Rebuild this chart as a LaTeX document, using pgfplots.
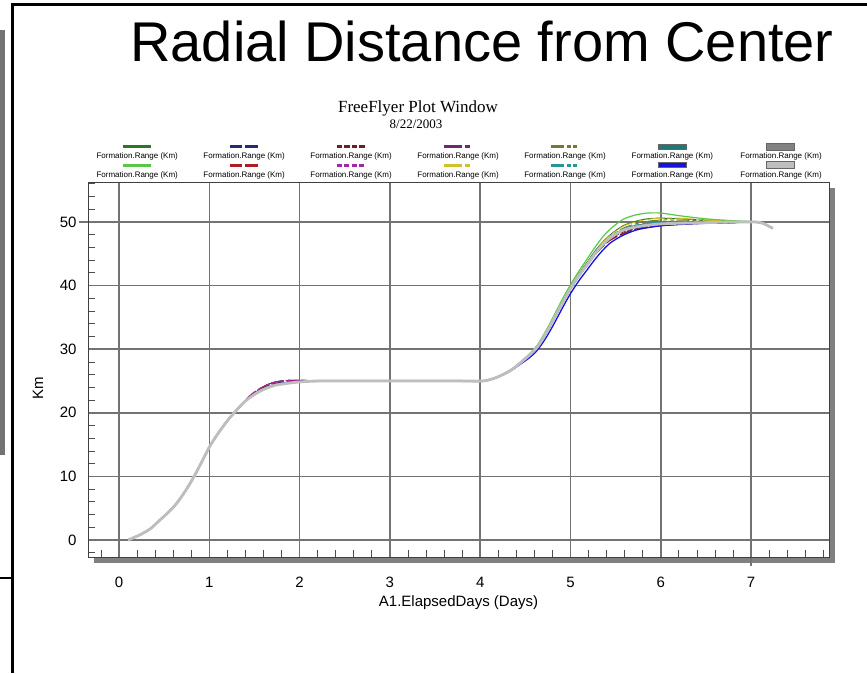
\documentclass[border=0pt]{standalone}
\usepackage{pgfplots}
\usepackage{pgfplotstable}
\pgfplotsset{compat=1.18}
\usepackage{fontspec}
\setmainfont{Liberation Sans}
\newfontfamily\timesf{Liberation Serif}

\definecolor{cA}{RGB}{40,120,40}
\definecolor{cB}{RGB}{90,200,70}
\definecolor{cC}{RGB}{40,40,120}
\definecolor{cD}{RGB}{170,30,40}
\definecolor{cE}{RGB}{110,30,40}
\definecolor{cF}{RGB}{160,40,170}
\definecolor{cG}{RGB}{110,40,110}
\definecolor{cH}{RGB}{205,195,40}
\definecolor{cI}{RGB}{120,120,50}
\definecolor{cJ}{RGB}{40,150,150}
\definecolor{cK}{RGB}{30,120,120}
\definecolor{cL}{RGB}{20,20,220}
\definecolor{cM}{RGB}{130,130,130}
\definecolor{cN}{RGB}{190,190,190}

\pgfplotstableread{
x    s1   s2   s3   s4   s5   s6   s7   s8   s9   s10  s11  s12  s13  s14
0.10 0.0  0.0  0.0  0.0  0.0  0.0  0.0  0.0  0.0  0.0  0.0  0.0  0.0  0.0
0.23 0.8  0.8  0.8  0.8  0.8  0.8  0.8  0.8  0.8  0.8  0.8  0.8  0.8  0.8
0.35 1.8  1.8  1.8  1.8  1.8  1.8  1.8  1.8  1.8  1.8  1.8  1.8  1.8  1.8
0.45 3.1  3.1  3.1  3.1  3.1  3.1  3.1  3.1  3.1  3.1  3.1  3.1  3.1  3.1
0.55 4.4  4.4  4.4  4.4  4.4  4.4  4.4  4.4  4.4  4.4  4.4  4.4  4.4  4.4
0.64 5.8  5.8  5.8  5.8  5.8  5.8  5.8  5.8  5.8  5.8  5.8  5.8  5.8  5.8
0.73 7.6  7.6  7.6  7.6  7.6  7.6  7.6  7.6  7.6  7.6  7.6  7.6  7.6  7.6
0.82 9.7  9.7  9.7  9.7  9.7  9.7  9.7  9.7  9.7  9.7  9.7  9.7  9.7  9.7
0.91 12.1 12.1 12.1 12.1 12.1 12.1 12.1 12.1 12.1 12.1 12.1 12.1 12.1 12.1
1.00 14.6 14.6 14.6 14.6 14.6 14.6 14.6 14.6 14.6 14.6 14.6 14.6 14.6 14.6
1.08 16.4 16.4 16.4 16.4 16.4 16.4 16.4 16.4 16.4 16.4 16.4 16.4 16.4 16.4
1.15 17.8 17.8 17.8 17.8 17.8 17.8 17.8 17.8 17.8 17.8 17.8 17.8 17.8 17.8
1.22 19.1 19.1 19.1 19.1 19.1 19.1 19.1 19.1 19.1 19.1 19.1 19.1 19.1 19.1
1.30 20.4 20.4 20.4 20.4 20.4 20.4 20.4 20.4 20.4 20.4 20.4 20.4 20.4 20.4
1.38 21.6 21.6 21.6 21.6 21.6 21.6 21.6 21.6 21.6 21.6 21.6 21.6 21.6 21.6
1.45 22.5 22.5 22.6 22.7 22.7 22.7 22.7 22.5 22.5 22.5 22.5 22.5 22.5 22.4
1.55 23.4 23.4 23.6 23.7 23.7 23.7 23.7 23.4 23.4 23.4 23.4 23.4 23.4 23.3
1.64 24.0 24.0 24.2 24.4 24.4 24.4 24.4 24.0 24.0 24.0 24.0 24.0 24.0 23.9
1.72 24.4 24.4 24.6 24.8 24.8 24.8 24.8 24.4 24.4 24.4 24.4 24.4 24.4 24.3
1.80 24.6 24.6 24.8 25.0 25.0 25.0 25.0 24.6 24.6 24.6 24.6 24.6 24.6 24.5
1.90 24.8 24.8 25.0 25.1 25.1 25.1 25.1 24.8 24.8 24.8 24.8 24.8 24.8 24.7
2.00 24.9 24.9 25.0 25.1 25.1 25.1 25.1 24.9 24.9 24.9 24.9 24.9 24.9 24.85
2.20 25.0 25.0 25.0 25.05 25.05 25.05 25.05 25.0 25.0 25.0 25.0 25.0 25.0 25.0
2.60 25.0 25.0 25.0 25.0 25.0 25.0 25.0 25.0 25.0 25.0 25.0 25.0 25.0 25.0
3.00 25.0 25.0 25.0 25.0 25.0 25.0 25.0 25.0 25.0 25.0 25.0 25.0 25.0 25.0
3.40 25.0 25.0 25.0 25.0 25.0 25.0 25.0 25.0 25.0 25.0 25.0 25.0 25.0 25.0
3.80 25.0 25.0 25.0 25.0 25.0 25.0 25.0 25.0 25.0 25.0 25.0 25.0 25.0 25.0
4.03 25.0 25.0 25.0 25.0 25.0 25.0 25.0 25.0 25.0 25.0 25.0 25.0 25.0 25.0
4.15 25.4 25.4 25.4 25.4 25.4 25.4 25.4 25.4 25.4 25.4 25.4 25.4 25.4 25.4
4.25 26.0 26.0 26.0 26.0 26.0 26.0 26.0 26.0 26.0 26.0 26.0 26.0 26.0 26.0
4.35 26.8 26.8 26.8 26.8 26.8 26.8 26.8 26.8 26.8 26.8 26.8 26.7 26.8 26.8
4.44 27.8 27.9 27.8 27.8 27.8 27.8 27.8 27.8 27.8 27.8 27.8 27.6 27.8 27.8
4.54 29.0 29.2 29.0 29.0 29.0 29.0 29.0 29.0 29.0 29.0 29.0 28.6 29.0 29.0
4.63 30.3 30.6 30.3 30.3 30.3 30.3 30.3 30.3 30.3 30.3 30.3 29.8 30.3 30.3
4.72 32.3 32.7 32.3 32.3 32.3 32.3 32.3 32.3 32.3 32.3 32.3 31.6 32.3 32.3
4.81 34.6 35.1 34.6 34.6 34.6 34.6 34.6 34.6 34.6 34.6 34.6 33.8 34.6 34.6
4.90 37.0 37.6 37.0 37.0 37.0 37.0 37.0 37.0 37.0 37.0 37.0 36.2 37.0 37.0
4.99 39.5 39.9 39.3 39.3 39.3 39.3 39.3 39.4 39.4 39.3 39.3 38.5 39.3 39.3
5.09 41.8 42.2 41.5 41.5 41.5 41.5 41.5 41.7 41.6 41.5 41.5 40.7 41.5 41.5
5.18 43.6 44.1 43.1 43.1 43.2 43.2 43.2 43.4 43.3 43.2 43.2 42.4 43.2 43.2
5.27 45.4 46.0 44.8 44.8 44.9 45.0 45.0 45.2 45.1 45.0 45.0 44.1 45.0 45.0
5.36 46.9 47.7 46.2 46.2 46.3 46.4 46.5 46.8 46.7 46.5 46.5 45.6 46.5 46.5
5.45 48.1 49.0 47.3 47.2 47.4 47.5 47.6 48.0 47.8 47.7 47.6 46.8 47.6 47.6
5.58 49.4 50.4 48.2 48.1 48.4 48.6 48.8 49.3 49.0 48.9 48.8 47.9 48.7 48.7
5.72 50.1 51.1 48.9 48.8 49.0 49.3 49.4 50.0 49.7 49.5 49.4 48.7 49.2 49.2
5.85 50.5 51.4 49.3 49.1 49.3 49.6 49.7 50.4 50.1 49.8 49.7 49.1 49.5 49.5
6.00 50.6 51.4 49.6 49.4 49.5 49.8 49.9 50.6 50.3 50.0 49.9 49.4 49.7 49.7
6.20 50.5 51.0 49.7 49.6 49.7 49.9 50.0 50.6 50.3 50.1 50.0 49.6 49.8 49.8
6.50 50.3 50.5 49.8 49.8 49.8 49.9 50.0 50.3 50.2 50.1 50.0 49.8 49.9 49.9
6.80 50.1 50.2 49.9 49.9 49.9 50.0 50.0 50.1 50.1 50.0 50.0 49.9 50.0 50.0
6.95 50.0 50.1 50.0 50.0 50.0 50.0 50.0 50.0 50.0 50.0 50.0 50.0 50.0 50.0
7.05 50.0 50.0 50.0 50.0 50.0 50.0 50.0 50.0 50.0 50.0 50.0 50.0 50.0 50.0
7.13 49.8 49.9 49.8 49.8 49.8 49.8 49.8 49.8 49.8 49.8 49.8 49.8 49.8 49.8
7.20 nan  nan  nan  nan  nan  nan  nan  nan  nan  nan  nan  nan  49.3 49.3
7.24 nan  nan  nan  nan  nan  nan  nan  nan  nan  nan  nan  nan  49.0 49.0
}\radial

\begin{document}
\begin{tikzpicture}[x=1pt,y=1pt]
\path[use as bounding box, fill=white] (0,0) rectangle (867,673);
% slide decorations
\fill[black!55] (0,218) rectangle (5,643);
\draw[line width=3pt] (12.5,668) -- (12.5,0);
\draw[line width=3pt] (11,668) -- (867,668);
\draw[line width=2pt] (0,95) -- (12.5,95);
% window shadow
\fill[black!50] (94,110) rectangle (835,485);
% titles
\node[anchor=base, font=\fontsize{56}{60}\selectfont, inner sep=0pt] at (482,611) {Radial Distance from Center};
\node[anchor=base, font=\timesf\fontsize{17}{20}\selectfont, inner sep=0pt] at (418,560) {FreeFlyer Plot Window};
\node[anchor=base, font=\timesf\fontsize{13}{15}\selectfont, inner sep=0pt] at (416,544) {8/22/2003};

\begin{axis}[
  at={(119pt,133pt)}, anchor=origin,
  scale only axis, width=741pt, height=375pt,
  xmin=-0.343, xmax=7.863, ymin=-2.67, ymax=56.29,
  axis background/.style={fill=white},
  axis line style={black!75, line width=0.8pt},
  xtick={0,1,...,7}, ytick={0,10,...,50},
  minor xtick={-0.2,0.2,0.4,0.6,0.8,1.2,1.4,1.6,1.8,2.2,2.4,2.6,2.8,3.2,3.4,3.6,3.8,4.2,4.4,4.6,4.8,5.2,5.4,5.6,5.8,6.2,6.4,6.6,6.8,7.2,7.4,7.6,7.8},
  minor ytick={-2,2,4,6,8,12,14,16,18,22,24,26,28,32,34,36,38,42,44,46,48,52,54,56},
  xtick pos=bottom, ytick pos=left,
  tick align=inside,
  major tick length=0pt, minor tick length=7pt,
  minor tick style={black!70, line width=0.8pt},
  grid=major,
  major grid style={black!55, line width=1.6pt, shorten <=-9pt},
  /pgf/number format/assume math mode=true,
  ticklabel style={font=\fontsize{15}{18}\selectfont},
  yticklabel style={xshift=-8pt},
  xticklabel style={yshift=-17pt},
  xlabel={A1.ElapsedDays (Days)},
  ylabel={Km},
  label style={font=\fontsize{15}{18}\selectfont},
  xlabel style={at={(axis description cs:0.5,-0.1227)}, anchor=center},
  ylabel style={at={(axis description cs:-0.0675,0.45)}, anchor=center},
  legend columns=7,
  legend style={at={(axis description cs:0.5,1)}, anchor=south, yshift=3pt,
    draw=none, fill=none, inner sep=0pt, row sep=11pt,
    font=\fontsize{8}{9}\selectfont, nodes={inner sep=0pt},
    /tikz/every even column/.append style={column sep=24.6pt}},
  legend cell align=left,
  legend image code/.code={\path (0,0); \draw[#1, overlay, line width=3pt] (27pt,10pt) -- (55pt,10pt);},
  every axis plot/.append style={line width=1pt, smooth, tension=0.5},
]
\addplot[cA] table[x=x,y=s1] {\radial};
\addlegendentry{Formation.Range (Km)}
\addplot[cC, dash pattern=on 12.5pt off 3pt] table[x=x,y=s3] {\radial};
\addlegendentry{Formation.Range (Km)}
\addplot[cE, dash pattern=on 5.5pt off 2pt] table[x=x,y=s5] {\radial};
\addlegendentry{Formation.Range (Km)}
\addplot[cG, dash pattern=on 18pt off 3pt on 5pt off 3pt] table[x=x,y=s7] {\radial};
\addlegendentry{Formation.Range (Km)}
\addplot[cI, dash pattern=on 13pt off 3pt on 4pt off 2.5pt on 4pt off 2.5pt] table[x=x,y=s9] {\radial};
\addlegendentry{Formation.Range (Km)}
\addplot[cK, line width=1.3pt, legend image code/.code={\path (0,0); \draw[overlay, draw=black!60, line width=0.5pt, fill=cK] (27pt,7.5pt) rectangle (55pt,12.5pt);}] table[x=x,y=s11] {\radial};
\addlegendentry{Formation.Range (Km)}
\addplot[cM, line width=2pt, legend image code/.code={\path (0,0); \draw[overlay, draw=black!60, line width=0.5pt, fill=cM] (27pt,6.5pt) rectangle (55pt,13.5pt);}] table[x=x,y=s13] {\radial};
\addlegendentry{Formation.Range (Km)}
\addplot[cB, line width=1.2pt] table[x=x,y=s2] {\radial};
\addlegendentry{Formation.Range (Km)}
\addplot[cD, dash pattern=on 12.5pt off 3pt] table[x=x,y=s4] {\radial};
\addlegendentry{Formation.Range (Km)}
\addplot[cF, dash pattern=on 5pt off 2.5pt] table[x=x,y=s6] {\radial};
\addlegendentry{Formation.Range (Km)}
\addplot[cH, dash pattern=on 18pt off 3pt on 5pt off 3pt] table[x=x,y=s8] {\radial};
\addlegendentry{Formation.Range (Km)}
\addplot[cJ, dash pattern=on 13pt off 3pt on 4pt off 2.5pt on 4pt off 2.5pt] table[x=x,y=s10] {\radial};
\addlegendentry{Formation.Range (Km)}
\addplot[cL, line width=1.3pt, legend image code/.code={\path (0,0); \draw[overlay, draw=black!60, line width=0.5pt, fill=cL] (27pt,7.5pt) rectangle (55pt,12.5pt);}] table[x=x,y=s12] {\radial};
\addlegendentry{Formation.Range (Km)}
\addplot[cN, line width=2.8pt, legend image code/.code={\path (0,0); \draw[overlay, draw=black!60, line width=0.5pt, fill=cN] (27pt,6.5pt) rectangle (55pt,13.5pt);}] table[x=x,y=s14] {\radial};
\addlegendentry{Formation.Range (Km)}
\end{axis}
\end{tikzpicture}
\end{document}
